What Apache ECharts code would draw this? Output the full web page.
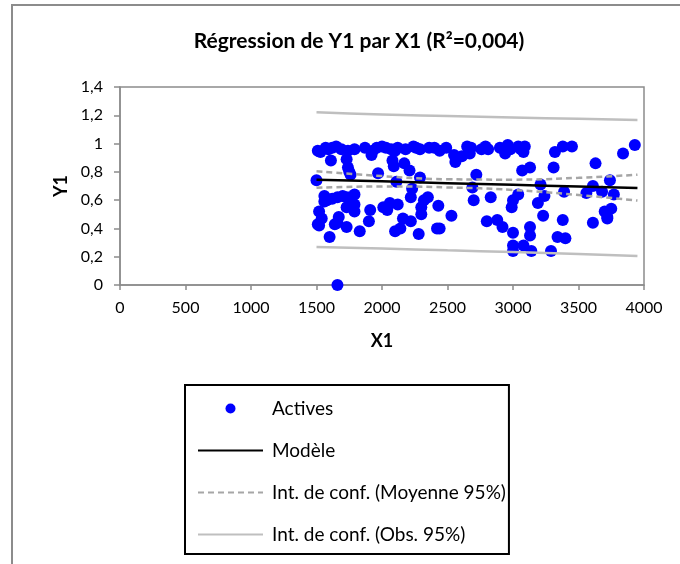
<!DOCTYPE html>
<html>
<head>
<meta charset="utf-8">
<script src="https://cdn.jsdelivr.net/npm/echarts@6/dist/echarts.min.js"></script>
<style>
  html, body { margin: 0; padding: 0; background: #fff; }
  #chart { width: 680px; height: 564px; }
</style>
</head>
<body>
<div id="chart"></div>
<script>
// observations (X1, Y1)
const activesX = [1510, 1530, 1570, 1590, 1620, 1650, 1610, 1500, 1520, 1540, 1510, 1520, 1560, 1560, 1580,
  1600, 1640, 1660, 1670, 1660, 1620, 1660, 1700, 1730, 1760, 1790, 1730, 1790, 1790, 1730,
  1730, 1740, 1740, 1750, 1760, 1790, 1830, 1870, 1900, 1910, 1920, 1930, 1960, 1970, 2000,
  2010, 2040, 2060, 2030, 2070, 2080, 2090, 2100, 2100, 2110, 2120, 2120, 2140, 2160, 2170,
  2180, 2210, 2220, 2230, 2220, 2240, 2280, 2290, 2290, 2300, 2300, 2320, 2350, 2360, 2400,
  2420, 2430, 2440, 2440, 2490, 2530, 2550, 2560, 2610, 2650, 2670, 2680, 2690, 2700, 2720,
  2760, 2790, 2800, 2810, 2830, 2880, 2900, 2920, 2940, 2960, 2980, 2990, 3000, 3000, 3000,
  3000, 3040, 3040, 3060, 3070, 3080, 3080, 3090, 3130, 3130, 3130, 3140, 3190, 3210, 3230,
  3240, 3290, 3310, 3320, 3340, 3380, 3380, 3390, 3400, 3450, 3560, 3610, 3610, 3630, 3680,
  3700, 3720, 3720, 3740, 3750, 3770, 3840, 3930, 1690, 2260];
const activesY = [0.95, 0.94, 0.97, 0.96, 0.97, 0.98, 0.88, 0.74, 0.52, 0.47, 0.43, 0.42, 0.63, 0.59, 0.60,
  0.34, 0.43, 0.44, 0.48, 0.00, 0.61, 0.62, 0.63, 0.62, 0.62, 0.64, 0.55, 0.57, 0.52, 0.41,
  0.89, 0.95, 0.83, 0.80, 0.78, 0.96, 0.38, 0.97, 0.45, 0.53, 0.92, 0.95, 0.97, 0.79, 0.98,
  0.55, 0.53, 0.58, 0.97, 0.96, 0.88, 0.84, 0.95, 0.38, 0.73, 0.57, 0.97, 0.40, 0.47, 0.86,
  0.96, 0.81, 0.62, 0.68, 0.45, 0.98, 0.36, 0.76, 0.96, 0.50, 0.55, 0.60, 0.62, 0.97, 0.97,
  0.40, 0.56, 0.95, 0.40, 0.97, 0.49, 0.92, 0.87, 0.91, 0.98, 0.93, 0.97, 0.69, 0.60, 0.78,
  0.96, 0.98, 0.45, 0.96, 0.62, 0.46, 0.97, 0.41, 0.93, 0.99, 0.96, 0.55, 0.60, 0.37, 0.28,
  0.24, 0.98, 0.64, 0.96, 0.81, 0.28, 0.94, 0.98, 0.83, 0.41, 0.35, 0.24, 0.58, 0.71, 0.49,
  0.63, 0.24, 0.83, 0.94, 0.34, 0.98, 0.46, 0.66, 0.33, 0.98, 0.65, 0.44, 0.70, 0.86, 0.66,
  0.52, 0.48, 0.47, 0.74, 0.54, 0.64, 0.93, 0.99, 0.96, 0.97];

// fitted model and intervals
const fitX = [1500, 2000, 2500, 3000, 3500, 3950];
const modelY = [0.745, 0.733, 0.720, 0.708, 0.696, 0.685];
const meanUpper = [0.805, 0.770, 0.748, 0.745, 0.758, 0.780];
const meanLower = [0.687, 0.697, 0.690, 0.672, 0.636, 0.597];
const obsUpper = [1.222, 1.205, 1.195, 1.185, 1.175, 1.167];
const obsLower = [0.268, 0.258, 0.245, 0.233, 0.220, 0.205];

const pair = (xs, ys) => xs.map((x, i) => [x, ys[i]]);
const font = "Lato, 'Open Sans', sans-serif";

const chart = echarts.init(document.getElementById("chart"));

const lineSeries = (name, ys, style) => ({
  name: name,
  type: "line",
  data: pair(fitX, ys),
  smooth: true,
  showSymbol: false,
  symbol: "none",
  itemStyle: { color: style.color, opacity: 0 },
  lineStyle: style,
  z: 3,
  silent: true
});

chart.setOption({
  animation: false,
  backgroundColor: "#fff",
  textStyle: { fontFamily: font, color: "#000" },
  title: {
    text: "Régression de Y1 par X1 (R²=0,004)",
    left: 354,
    textAlign: "center",
    top: 26,
    textStyle: { fontFamily: font, fontSize: 21, fontWeight: "bold", color: "#000" }
  },
  graphic: [{
    type: "rect",
    shape: { x: 12, y: 5, width: 700, height: 600 },
    style: { fill: "none", stroke: "#8c8c8c", lineWidth: 2 },
    silent: true,
    z: -1
  }],
  grid: {
    left: 120, right: 36, top: 87, bottom: 279,
    show: true, borderColor: "#8c8c8c", borderWidth: 1.5, backgroundColor: "transparent"
  },
  xAxis: {
    type: "value",
    min: 0, max: 4000, interval: 500,
    name: "X1",
    nameLocation: "middle",
    nameGap: 47,
    nameTextStyle: { fontFamily: font, fontSize: 18, fontWeight: "bold", color: "#000" },
    axisLine: { onZero: false, lineStyle: { color: "#8c8c8c", width: 1.5 } },
    axisTick: { show: true, inside: false, length: 5, lineStyle: { color: "#8c8c8c", width: 1.5 } },
    axisLabel: { fontFamily: font, fontSize: 16, color: "#000", margin: 15, formatter: (v) => String(v) },
    splitLine: { show: false }
  },
  yAxis: {
    type: "value",
    min: 0, max: 1.4, interval: 0.2,
    name: "Y1",
    nameLocation: "middle",
    nameGap: 48,
    nameRotate: 90,
    nameTextStyle: { fontFamily: font, fontSize: 18, fontWeight: "bold", color: "#000" },
    axisLine: { show: true, lineStyle: { color: "#8c8c8c", width: 1.5 } },
    axisTick: { show: true, length: 6, lineStyle: { color: "#8c8c8c", width: 1.5 } },
    axisLabel: { fontFamily: font, fontSize: 16, color: "#000", margin: 17, formatter: (v) => String(v).replace(".", ",") },
    splitLine: { show: false }
  },
  legend: {
    orient: "vertical",
    left: 185,
    top: 385,
    height: 175,
    padding: [14, 3, 10, 12],
    itemWidth: 65,
    itemHeight: 10,
    itemGap: 23,
    borderColor: "#000",
    borderWidth: 2,
    backgroundColor: "#fff",
    textStyle: { fontFamily: font, fontSize: 19, color: "#000", padding: [0, 0, 0, 4] },
    data: [
      { name: "Actives", icon: "circle" },
      { name: "Modèle" },
      { name: "Int. de conf. (Moyenne 95%)" },
      { name: "Int. de conf. (Obs. 95%)" }
    ]
  },
  series: [
    lineSeries("Int. de conf. (Obs. 95%)", obsUpper, { color: "#bfbfbf", width: 2.5 }),
    lineSeries("Int. de conf. (Obs. 95%)", obsLower, { color: "#bfbfbf", width: 2.5 }),
    lineSeries("Int. de conf. (Moyenne 95%)", meanUpper, { color: "#a6a6a6", width: 2.5, type: [6, 4] }),
    lineSeries("Int. de conf. (Moyenne 95%)", meanLower, { color: "#a6a6a6", width: 2.5, type: [6, 4] }),
    {
      name: "Actives",
      type: "scatter",
      data: pair(activesX, activesY),
      symbol: "circle",
      symbolSize: 12,
      itemStyle: { color: "#0000ff", opacity: 1 },
      z: 2,
      silent: true
    },
    lineSeries("Modèle", modelY, { color: "#000", width: 2.5 })
  ]
});
</script>
</body>
</html>
